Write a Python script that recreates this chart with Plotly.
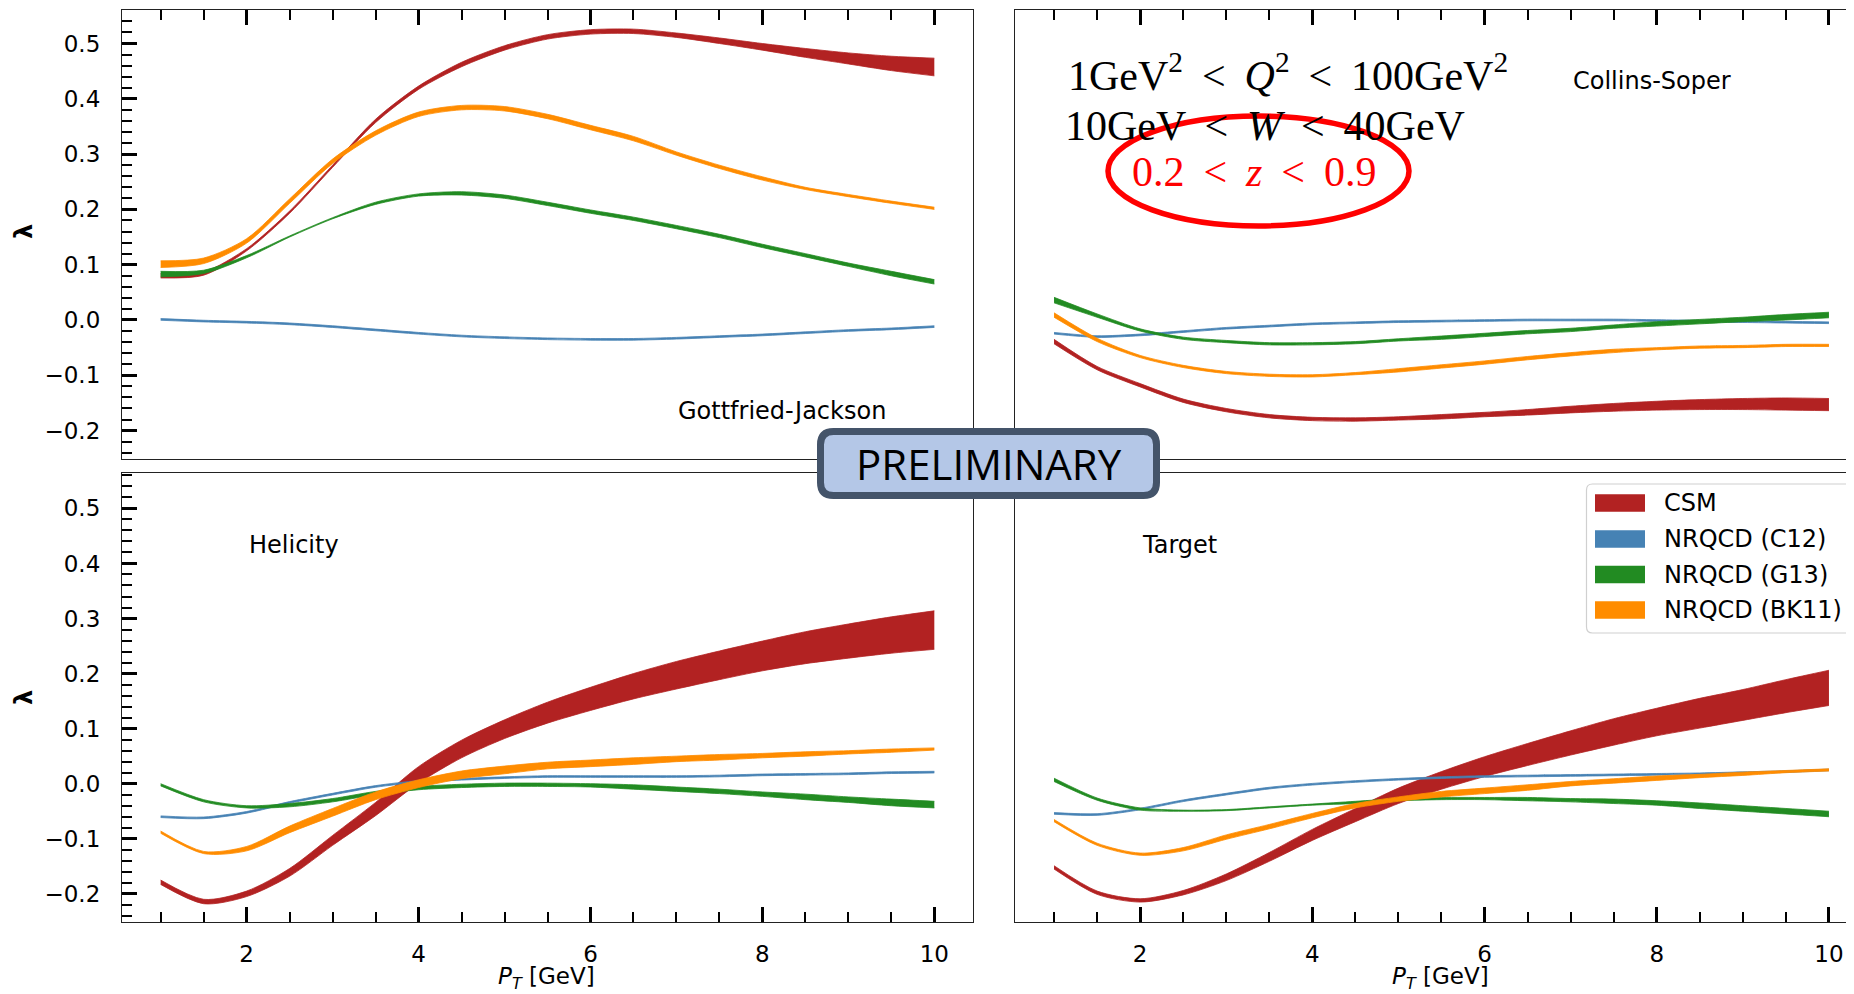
import plotly.graph_objects as go

# ---------------- data ----------------
pt = [1, 1.5, 2, 2.5, 3, 3.5, 4, 4.5, 5, 5.5, 6, 6.5, 7, 7.5, 8, 8.5, 9, 9.5, 10]

series_names = ["CSM", "NRQCD (C12)", "NRQCD (G13)", "NRQCD (BK11)"]
series_colors = ["#B22222", "#4682B4", "#228B22", "#FF8C00"]

# Gottfried-Jackson frame (centre, half-width of band)
gj_csm = [0.080, 0.084, 0.127, 0.195, 0.278, 0.360, 0.420, 0.462, 0.492, 0.512, 0.521, 0.522, 0.515, 0.505, 0.494, 0.483, 0.473, 0.464, 0.4575]
gj_csm_hw = [0.004, 0.003, 0.002, 0.002, 0.002, 0.003, 0.003, 0.004, 0.004, 0.004, 0.004, 0.004, 0.004, 0.005, 0.006, 0.008, 0.010, 0.013, 0.016]
gj_c12 = [0.001, -0.002, -0.004, -0.007, -0.012, -0.018, -0.024, -0.029, -0.032, -0.034, -0.035, -0.035, -0.033, -0.030, -0.027, -0.023, -0.019, -0.016, -0.012]
gj_c12_hw = [0.0015] * 19
gj_g13 = [0.083, 0.087, 0.1145, 0.151, 0.184, 0.211, 0.226, 0.229, 0.223, 0.210, 0.196, 0.183, 0.168, 0.152, 0.134, 0.117, 0.100, 0.084, 0.069]
gj_g13_hw = [0.005, 0.003, 0.002, 0.001, 0.001, 0.002, 0.002, 0.003, 0.003, 0.003, 0.003, 0.003, 0.003, 0.003, 0.003, 0.003, 0.003, 0.004, 0.004]
gj_bk11 = [0.101, 0.107, 0.143, 0.215, 0.287, 0.338, 0.372, 0.384, 0.382, 0.368, 0.348, 0.328, 0.301, 0.277, 0.256, 0.238, 0.225, 0.213, 0.202]
gj_bk11_hw = [0.006, 0.005, 0.004, 0.004, 0.004, 0.004, 0.004, 0.004, 0.004, 0.004, 0.004, 0.004, 0.003, 0.003, 0.003, 0.002, 0.002, 0.002, 0.002]

# Collins-Soper frame
cs_csm = [-0.039, -0.087, -0.118, -0.146, -0.163, -0.174, -0.179, -0.180, -0.178, -0.175, -0.171, -0.167, -0.162, -0.158, -0.155, -0.153, -0.152, -0.152, -0.153]
cs_csm_hw = [0.004, 0.003, 0.003, 0.003, 0.003, 0.003, 0.003, 0.003, 0.003, 0.004, 0.004, 0.005, 0.006, 0.007, 0.008, 0.009, 0.010, 0.011, 0.011]
cs_c12 = [-0.024, -0.030, -0.027, -0.021, -0.015, -0.011, -0.007, -0.005, -0.003, -0.002, -0.001, 0.000, 0.000, 0.000, -0.001, -0.002, -0.003, -0.004, -0.005]
cs_c12_hw = [0.0015] * 19
cs_g13 = [0.036, 0.008, -0.018, -0.033, -0.039, -0.043, -0.043, -0.041, -0.036, -0.032, -0.027, -0.022, -0.018, -0.012, -0.007, -0.003, 0.001, 0.005, 0.009]
cs_g13_hw = [0.005, 0.003, 0.002, 0.002, 0.002, 0.002, 0.002, 0.002, 0.002, 0.003, 0.003, 0.003, 0.003, 0.003, 0.004, 0.004, 0.004, 0.005, 0.005]
cs_bk11 = [0.009, -0.036, -0.066, -0.084, -0.095, -0.100, -0.101, -0.097, -0.091, -0.084, -0.077, -0.069, -0.062, -0.056, -0.052, -0.049, -0.048, -0.046, -0.046]
cs_bk11_hw = [0.004, 0.003, 0.002, 0.002, 0.002, 0.002, 0.002, 0.002, 0.003, 0.003, 0.003, 0.003, 0.003, 0.003, 0.002, 0.002, 0.002, 0.002, 0.002]

# Helicity frame
hx_csm = [-0.179, -0.214, -0.200, -0.161, -0.103, -0.046, 0.016, 0.063, 0.099, 0.129, 0.154, 0.177, 0.197, 0.215, 0.232, 0.247, 0.259, 0.270, 0.279]
hx_csm_hw = [0.004, 0.004, 0.005, 0.007, 0.009, 0.012, 0.015, 0.016, 0.017, 0.019, 0.021, 0.023, 0.025, 0.026, 0.027, 0.029, 0.031, 0.033, 0.035]
hx_c12 = [-0.060, -0.062, -0.052, -0.034, -0.019, -0.005, 0.004, 0.008, 0.011, 0.013, 0.013, 0.013, 0.013, 0.014, 0.016, 0.017, 0.018, 0.020, 0.021]
hx_c12_hw = [0.0015] * 19
hx_g13 = [-0.002, -0.031, -0.042, -0.039, -0.030, -0.017, -0.008, -0.004, -0.002, -0.002, -0.003, -0.006, -0.010, -0.014, -0.019, -0.024, -0.029, -0.034, -0.038]
hx_g13_hw = [0.002, 0.002, 0.002, 0.003, 0.003, 0.003, 0.003, 0.003, 0.003, 0.003, 0.003, 0.004, 0.004, 0.004, 0.004, 0.005, 0.005, 0.006, 0.006]
hx_bk11 = [-0.088, -0.125, -0.118, -0.083, -0.052, -0.022, 0.000, 0.016, 0.025, 0.033, 0.037, 0.041, 0.045, 0.048, 0.051, 0.054, 0.057, 0.060, 0.063]
hx_bk11_hw = [0.002, 0.002, 0.004, 0.006, 0.007, 0.007, 0.007, 0.007, 0.007, 0.006, 0.006, 0.006, 0.005, 0.005, 0.004, 0.004, 0.003, 0.003, 0.002]

# Target frame
tg_csm = [-0.152, -0.198, -0.212, -0.198, -0.170, -0.133, -0.093, -0.057, -0.022, 0.006, 0.031, 0.053, 0.074, 0.094, 0.112, 0.128, 0.143, 0.159, 0.174]
tg_csm_hw = [0.003, 0.003, 0.003, 0.004, 0.006, 0.008, 0.010, 0.012, 0.014, 0.016, 0.018, 0.020, 0.022, 0.024, 0.025, 0.027, 0.028, 0.030, 0.032]
tg_c12 = [-0.054, -0.056, -0.046, -0.031, -0.019, -0.008, -0.001, 0.004, 0.008, 0.011, 0.013, 0.014, 0.015, 0.016, 0.017, 0.018, 0.020, 0.022, 0.025]
tg_c12_hw = [0.0015] * 19
tg_g13 = [0.007, -0.028, -0.046, -0.049, -0.048, -0.043, -0.038, -0.034, -0.029, -0.027, -0.027, -0.028, -0.030, -0.032, -0.035, -0.040, -0.045, -0.050, -0.055]
tg_g13_hw = [0.003, 0.002, 0.002, 0.001, 0.001, 0.001, 0.001, 0.002, 0.002, 0.002, 0.002, 0.003, 0.003, 0.004, 0.004, 0.005, 0.005, 0.005, 0.005]
tg_bk11 = [-0.067, -0.110, -0.128, -0.119, -0.097, -0.078, -0.058, -0.040, -0.028, -0.019, -0.013, -0.007, 0.000, 0.005, 0.010, 0.014, 0.018, 0.022, 0.025]
tg_bk11_hw = [0.002, 0.002, 0.002, 0.003, 0.004, 0.004, 0.004, 0.004, 0.004, 0.005, 0.005, 0.005, 0.004, 0.004, 0.004, 0.003, 0.003, 0.002, 0.002]

panel_labels = ["Gottfried-Jackson", "Collins-Soper", "Helicity", "Target"]
x_ticks = [2, 4, 6, 8, 10]

# ---------------- figure ----------------
# the page body has an 8 px margin, so the figure is made 8 px smaller and
# all page-pixel positions below are shifted by that offset
OFF = 8
W, H = 1854 - OFF, 994 - OFF


def px(x):
    return (x - OFF) / W


def py(y):
    return 1 - (y - OFF) / H


panels = [
    ("x", "y", [(gj_csm, gj_csm_hw), (gj_c12, gj_c12_hw), (gj_g13, gj_g13_hw), (gj_bk11, gj_bk11_hw)]),
    ("x2", "y2", [(cs_csm, cs_csm_hw), (cs_c12, cs_c12_hw), (cs_g13, cs_g13_hw), (cs_bk11, cs_bk11_hw)]),
    ("x3", "y3", [(hx_csm, hx_csm_hw), (hx_c12, hx_c12_hw), (hx_g13, hx_g13_hw), (hx_bk11, hx_bk11_hw)]),
    ("x4", "y4", [(tg_csm, tg_csm_hw), (tg_c12, tg_c12_hw), (tg_g13, tg_g13_hw), (tg_bk11, tg_bk11_hw)]),
]

fig = go.Figure()
for xa, ya, sers in panels:
    for (cen, hw), name, col in zip(sers, series_names, series_colors):
        lo = [c - h for c, h in zip(cen, hw)]
        hi = [c + h for c, h in zip(cen, hw)]
        fig.add_trace(go.Scatter(x=pt, y=lo, xaxis=xa, yaxis=ya, mode="lines",
                                 line=dict(color=col, width=0.8, shape="spline", smoothing=0.8),
                                 showlegend=False, hoverinfo="skip", name=name))
        fig.add_trace(go.Scatter(x=pt, y=hi, xaxis=xa, yaxis=ya, mode="lines", fill="tonexty",
                                 fillcolor=col,
                                 line=dict(color=col, width=0.8, shape="spline", smoothing=0.8),
                                 showlegend=False, hoverinfo="skip", name=name))

tickfont = dict(family="DejaVu Sans", size=23, color="black")
line_col = "#222222"

left_x = [0.55, 10.45]
right_x = [0.55, 0.55 + (1854 - 1015.3) / 86.1]
top_dom = [py(459), py(9.5)]
bot_dom = [py(922), py(473)]
left_dom = [px(122), px(973)]
right_dom = [px(1015.3), 1.0]
top_y = [-0.2514, 0.5615]
bot_y = [-0.2512, 0.5643]


def xaxis_cfg(dom, rng, anchor, top):
    return dict(domain=dom, range=rng, anchor=anchor, showgrid=False, zeroline=False,
                showline=True, linecolor=line_col, linewidth=1.2, mirror=True,
                side="top" if top else "bottom",
                ticks="inside", ticklen=15, tickwidth=3, tickcolor="black",
                tickmode="array", tickvals=x_ticks, ticktext=[str(v) for v in x_ticks],
                showticklabels=not top, tickfont=tickfont, ticklabelstandoff=11,
                minor=dict(dtick=0.5, tick0=0, ticks="inside", ticklen=10, tickwidth=2.2,
                           tickcolor="black", showgrid=False))


def yaxis_cfg(dom, rng, anchor, left):
    d = dict(domain=dom, range=rng, anchor=anchor, showgrid=False, zeroline=False,
             showline=True, linecolor=line_col, linewidth=1.2, mirror=left,
             dtick=0.1, tick0=0, tickformat=".1f", tickfont=tickfont, ticklabelstandoff=16)
    if left:
        d.update(ticks="inside", ticklen=15, tickwidth=3, tickcolor="black", showticklabels=True,
                 minor=dict(dtick=0.02, tick0=0, ticks="inside", ticklen=10, tickwidth=2.2,
                            tickcolor="black", showgrid=False))
    else:
        d.update(ticks="", showticklabels=False)
    return d


fig.update_layout(
    width=W, height=H, margin=dict(l=0, r=0, t=0, b=0),
    paper_bgcolor="white", plot_bgcolor="white", showlegend=False,
    xaxis=xaxis_cfg(left_dom, left_x, "y", True),
    yaxis=yaxis_cfg(top_dom, top_y, "x", True),
    xaxis2=xaxis_cfg(right_dom, right_x, "y2", True),
    yaxis2=yaxis_cfg(top_dom, top_y, "x2", False),
    xaxis3=xaxis_cfg(left_dom, left_x, "y3", False),
    yaxis3=yaxis_cfg(bot_dom, bot_y, "x3", True),
    xaxis4=xaxis_cfg(right_dom, right_x, "y4", False),
    yaxis4=yaxis_cfg(bot_dom, bot_y, "x4", False),
)

ann = []
lab_font = dict(family="DejaVu Sans", size=24, color="black")
# panel labels
ann.append(dict(x=7, y=-0.165, xref="x", yref="y", text=panel_labels[0], showarrow=False,
                xanchor="left", yanchor="middle", font=lab_font))
ann.append(dict(x=7, y=0.433, xref="x2", yref="y2", text=panel_labels[1], showarrow=False,
                xanchor="left", yanchor="middle", font=lab_font))
ann.append(dict(x=2, y=0.433, xref="x3", yref="y3", text=panel_labels[2], showarrow=False,
                xanchor="left", yanchor="middle", font=lab_font))
ann.append(dict(x=2, y=0.433, xref="x4", yref="y4", text=panel_labels[3], showarrow=False,
                xanchor="left", yanchor="middle", font=lab_font))
# axis titles
for yc in (232, 698):
    ann.append(dict(x=px(24), y=py(yc), xref="paper", yref="paper", text="<b>λ</b>",
                    textangle=-90, showarrow=False, xanchor="center", yanchor="middle",
                    font=dict(family="DejaVu Sans", size=24, color="black")))
for xc in (546, 1440):
    ann.append(dict(x=px(xc), y=py(978), xref="paper", yref="paper",
                    text="<i>P</i><sub><i>T</i></sub> [GeV]", showarrow=False,
                    xanchor="center", yanchor="middle",
                    font=dict(family="DejaVu Sans", size=23, color="black")))
# kinematic cuts
serif = "Liberation Serif"
LT = "\u2009&lt;\u2009"
ann.append(dict(x=px(1066), y=py(72), xref="paper", yref="paper",
                text=f"1GeV<sup>2</sup> {LT} <i>Q</i><sup>2</sup> {LT} 100GeV<sup>2</sup>",
                showarrow=False, xanchor="left", yanchor="middle",
                font=dict(family=serif, size=42, color="black")))
ann.append(dict(x=px(1063), y=py(126), xref="paper", yref="paper",
                text=f"10GeV {LT} <i>W</i> {LT} 40GeV",
                showarrow=False, xanchor="left", yanchor="middle",
                font=dict(family=serif, size=42, color="black")))
ann.append(dict(x=px(1254), y=py(172), xref="paper", yref="paper",
                text=f"0.2 {LT} <i>z</i> {LT} 0.9",
                showarrow=False, xanchor="center", yanchor="middle",
                font=dict(family=serif, size=42, color="#FF0000")))
# preliminary stamp
ann.append(dict(x=px(988.5), y=py(463.5), xref="paper", yref="paper", text="PRELIMINARY",
                showarrow=False, xanchor="center", yanchor="middle",
                font=dict(family="Open Sans", size=42, color="black")))

# legend (drawn by hand to match the matplotlib look)
leg_rows = [503, 539, 574.5, 610]
for nm, yc in zip(series_names, leg_rows):
    ann.append(dict(x=px(1662), y=py(yc), xref="paper", yref="paper", text=nm,
                    showarrow=False, xanchor="left", yanchor="middle", font=lab_font))


def rrect(x0, y0, x1, y1, r):
    def P(x, y):
        return f"{px(x):.6f},{py(y):.6f}"
    return (f"M{P(x0 + r, y0)} L{P(x1 - r, y0)} Q{P(x1, y0)} {P(x1, y0 + r)} "
            f"L{P(x1, y1 - r)} Q{P(x1, y1)} {P(x1 - r, y1)} L{P(x0 + r, y1)} "
            f"Q{P(x0, y1)} {P(x0, y1 - r)} L{P(x0, y0 + r)} Q{P(x0, y0)} {P(x0 + r, y0)} Z")


shapes = []
shapes.append(dict(type="path", xref="paper", yref="paper", path=rrect(1586.5, 484, 1880, 633, 6),
                   line=dict(color="#D0D0D0", width=1.2), fillcolor="rgba(255,255,255,0.85)",
                   layer="above"))
for col, yc in zip(series_colors, leg_rows):
    shapes.append(dict(type="rect", xref="paper", yref="paper",
                       x0=px(1595), x1=px(1645), y0=py(yc + 8.7), y1=py(yc - 8.7),
                       line=dict(width=0), fillcolor=col, layer="above"))
shapes.append(dict(type="path", xref="paper", yref="paper", path=rrect(820.5, 431.5, 1156.5, 495.5, 13),
                   line=dict(color="#44546A", width=7), fillcolor="#B4C7E7", layer="above"))
shapes.append(dict(type="circle", xref="paper", yref="paper",
                   x0=px(1108), x1=px(1409), y0=py(226), y1=py(116),
                   line=dict(color="#FF0000", width=5.5), layer="above"))

fig.update_layout(annotations=ann, shapes=shapes)
fig.write_html("out.html")
